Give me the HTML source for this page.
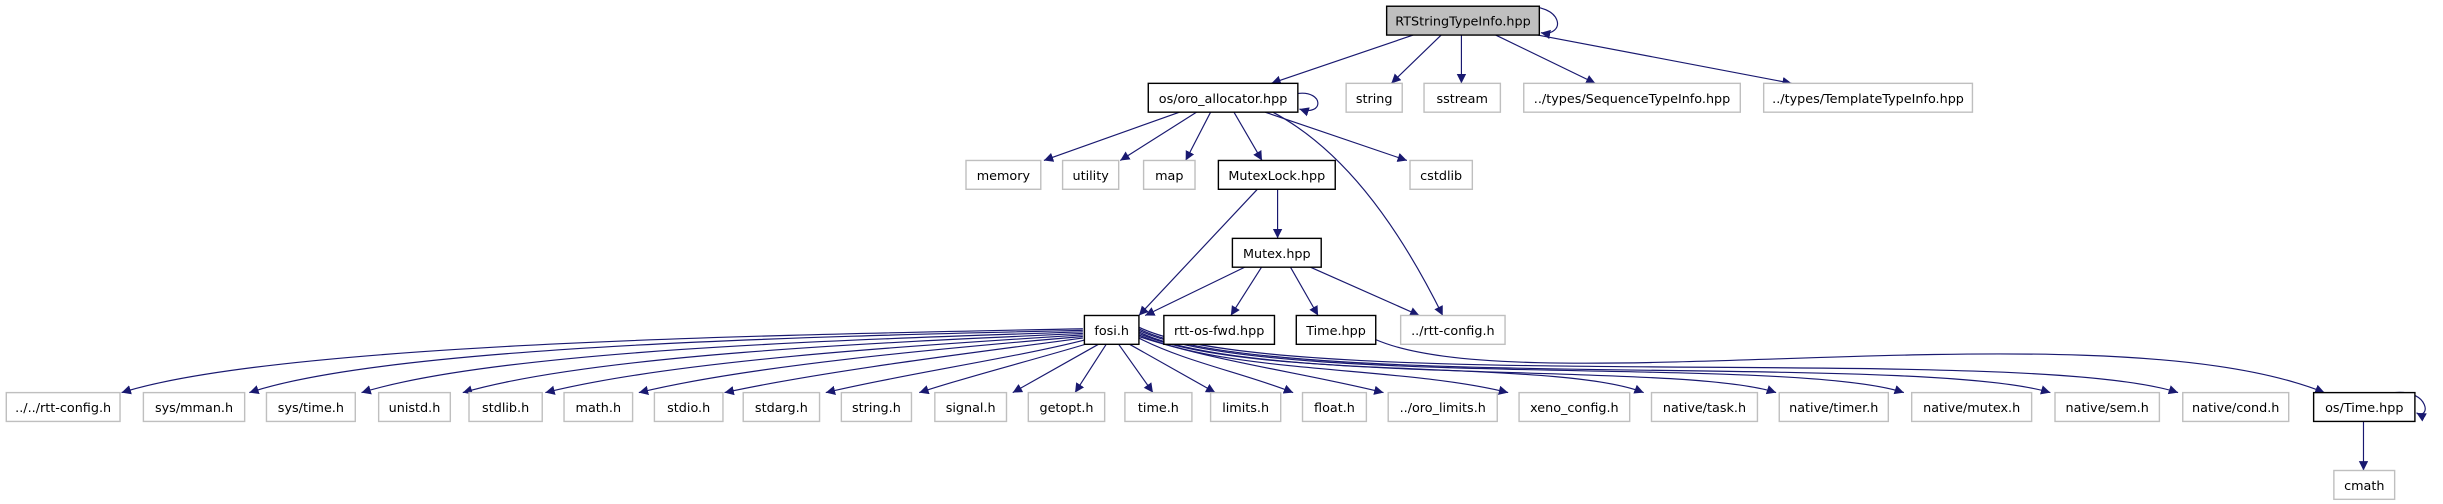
<!DOCTYPE html>
<html><head><meta charset="utf-8"><style>
html,body{margin:0;padding:0;background:#fff;}
svg{display:block;}
text{font-family:"DejaVu Sans","Liberation Sans",sans-serif;font-size:8.2px;fill:#000;text-anchor:middle;}
.b{fill:#fff;stroke:#000;stroke-width:0.9;}
.g{fill:#fff;stroke:#bfbfbf;stroke-width:0.9;}
.e{fill:none;stroke:#191970;stroke-width:0.75;marker-end:url(#a);}
</style></head><body>
<svg width="2443" height="504" viewBox="0 0 1568 323.5" xmlns="http://www.w3.org/2000/svg">
<defs><marker id="a" markerUnits="userSpaceOnUse" markerWidth="8" markerHeight="8" refX="6" refY="3" orient="auto"><path d="M0,0 L6,3 L0,6 z" fill="#191970"/></marker></defs>
<!-- edges row1 -->
<path class="e" d="M907,22.5 L816,53.5"/>
<path class="e" d="M925,22.5 L893,53.5"/>
<path class="e" d="M938,22.5 L938,53.5"/>
<path class="e" d="M960,22.5 L1024,53.5"/>
<path class="e" d="M987,22.5 L1150,53.5"/>
<path class="e" d="M975,4 C1005,2 1005,24 989,21"/>
<!-- oro_allocator -->
<path class="e" d="M833,60 C850,58 850,75 834,70"/>
<path class="e" d="M757,72 L670,103"/>
<path class="e" d="M768,72 L719,103"/>
<path class="e" d="M777,72 L761,103"/>
<path class="e" d="M792,72 L810,103"/>
<path class="e" d="M812,72 L903,103"/>
<path class="e" d="M817,72 C860,95 895,140 926,202.5"/>
<!-- MutexLock -->
<path class="e" d="M807,121.5 L731,202.5"/>
<path class="e" d="M820,121.5 L820,153"/>
<!-- Mutex -->
<path class="e" d="M800,171 L735,202.5"/>
<path class="e" d="M810,171 L790,202.5"/>
<path class="e" d="M828,171 L846,202.5"/>
<path class="e" d="M840,171 L911,202.5"/>
<!-- Time -> os/Time -->
<path class="e" d="M883,218 C980,260 1350,195 1492,252"/>
<!-- fosi left -->
<path class="e" d="M695,211 C500,215 180,220 78,252"/>
<path class="e" d="M695,212 C520,216 250,222 160,252"/>
<path class="e" d="M695,213 C540,218 320,225 232,252"/>
<path class="e" d="M695,214 C560,220 380,228 297,252"/>
<path class="e" d="M695,215 C580,222 430,232 350,252"/>
<path class="e" d="M695,216 C600,224 480,235 410,252"/>
<path class="e" d="M695,217 C620,227 530,238 465,252"/>
<path class="e" d="M697,218 C650,230 580,240 530,252"/>
<path class="e" d="M700,220 C660,232 620,242 590,252"/>
<path class="e" d="M705,221 L650,252"/>
<path class="e" d="M710,221 L690,252"/>
<path class="e" d="M718,221 L740,252"/>
<path class="e" d="M725,221 L780,252"/>
<!-- fosi right -->
<path class="e" d="M731,217 C760,232 800,240 830,252"/>
<path class="e" d="M731,216 C780,232 840,240 888,252"/>
<path class="e" d="M731,215 C790,240 900,235 968,252"/>
<path class="e" d="M731,214 C800,245 1000,230 1055,252"/>
<path class="e" d="M731,213 C800,248 1080,232 1140,252"/>
<path class="e" d="M731,212 C810,250 1150,228 1222,252"/>
<path class="e" d="M731,211 C810,252 1230,226 1316,252"/>
<path class="e" d="M731,210 C820,254 1300,220 1398,252"/>
<!-- os/Time -->
<path class="e" d="M1517,270 L1517,302"/>
<path class="e" d="M1537,252 C1560,250 1560,270 1551,265"/>
<!-- nodes -->
<rect x="890" y="4" width="98" height="18.5" fill="#bfbfbf" stroke="#000" stroke-width="0.9"/><text x="939" y="16.5">RTStringTypeInfo.hpp</text>
<rect class="b" x="737" y="53.5" width="96" height="18.5"/><text x="785" y="66">os/oro_allocator.hpp</text>
<rect class="g" x="864" y="53.5" width="36" height="18.5"/><text x="882" y="66">string</text>
<rect class="g" x="914" y="53.5" width="49" height="18.5"/><text x="938.5" y="66">sstream</text>
<rect class="g" x="978" y="53.5" width="139" height="18.5"/><text x="1047.5" y="66">../types/SequenceTypeInfo.hpp</text>
<rect class="g" x="1132" y="53.5" width="134" height="18.5"/><text x="1199" y="66">../types/TemplateTypeInfo.hpp</text>
<rect class="g" x="620" y="103" width="48" height="18.5"/><text x="644" y="115.5">memory</text>
<rect class="g" x="682" y="103" width="36" height="18.5"/><text x="700" y="115.5">utility</text>
<rect class="g" x="734" y="103" width="33" height="18.5"/><text x="750.5" y="115.5">map</text>
<rect class="b" x="782" y="103" width="75" height="18.5"/><text x="819.5" y="115.5">MutexLock.hpp</text>
<rect class="g" x="905" y="103" width="40" height="18.5"/><text x="925" y="115.5">cstdlib</text>
<rect class="b" x="791" y="153" width="57" height="18.5"/><text x="819.5" y="165.5">Mutex.hpp</text>
<rect class="b" x="696" y="202.5" width="35" height="18.5"/><text x="713.5" y="215">fosi.h</text>
<rect class="b" x="747" y="202.5" width="71" height="18.5"/><text x="782.5" y="215">rtt-os-fwd.hpp</text>
<rect class="b" x="832" y="202.5" width="51" height="18.5"/><text x="857.5" y="215">Time.hpp</text>
<rect class="g" x="899" y="202.5" width="67" height="18.5"/><text x="932.5" y="215">../rtt-config.h</text>
<g>
<rect class="g" x="4" y="252" width="73" height="18.5"/><text x="40.5" y="264.5">../../rtt-config.h</text>
<rect class="g" x="92" y="252" width="65" height="18.5"/><text x="124.5" y="264.5">sys/mman.h</text>
<rect class="g" x="171" y="252" width="57" height="18.5"/><text x="199.5" y="264.5">sys/time.h</text>
<rect class="g" x="243" y="252" width="46" height="18.5"/><text x="266" y="264.5">unistd.h</text>
<rect class="g" x="301" y="252" width="47" height="18.5"/><text x="324.5" y="264.5">stdlib.h</text>
<rect class="g" x="362" y="252" width="44" height="18.5"/><text x="384" y="264.5">math.h</text>
<rect class="g" x="420" y="252" width="44" height="18.5"/><text x="442" y="264.5">stdio.h</text>
<rect class="g" x="477" y="252" width="49" height="18.5"/><text x="501.5" y="264.5">stdarg.h</text>
<rect class="g" x="540" y="252" width="45" height="18.5"/><text x="562.5" y="264.5">string.h</text>
<rect class="g" x="600" y="252" width="46" height="18.5"/><text x="623" y="264.5">signal.h</text>
<rect class="g" x="660" y="252" width="49" height="18.5"/><text x="684.5" y="264.5">getopt.h</text>
<rect class="g" x="722" y="252" width="43" height="18.5"/><text x="743.5" y="264.5">time.h</text>
<rect class="g" x="777" y="252" width="45" height="18.5"/><text x="799.5" y="264.5">limits.h</text>
<rect class="g" x="836" y="252" width="41" height="18.5"/><text x="856.5" y="264.5">float.h</text>
<rect class="g" x="891" y="252" width="70" height="18.5"/><text x="926" y="264.5">../oro_limits.h</text>
<rect class="g" x="975" y="252" width="71" height="18.5"/><text x="1010.5" y="264.5">xeno_config.h</text>
<rect class="g" x="1060" y="252" width="68" height="18.5"/><text x="1094" y="264.5">native/task.h</text>
<rect class="g" x="1142" y="252" width="70" height="18.5"/><text x="1177" y="264.5">native/timer.h</text>
<rect class="g" x="1227" y="252" width="77" height="18.5"/><text x="1265.5" y="264.5">native/mutex.h</text>
<rect class="g" x="1319" y="252" width="67" height="18.5"/><text x="1352.5" y="264.5">native/sem.h</text>
<rect class="g" x="1401" y="252" width="68" height="18.5"/><text x="1435" y="264.5">native/cond.h</text>
<rect class="b" x="1485" y="252" width="65" height="18.5"/><text x="1517.5" y="264.5">os/Time.hpp</text>
<rect class="g" x="1498" y="302" width="39" height="18.5"/><text x="1517.5" y="314.5">cmath</text>
</g>
</svg>
</body></html>
